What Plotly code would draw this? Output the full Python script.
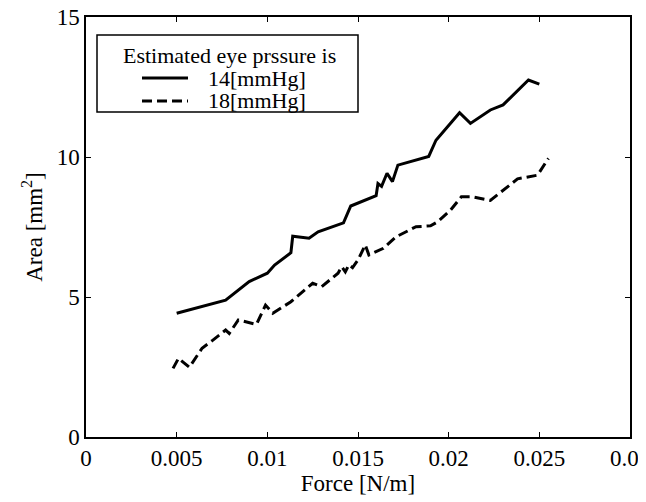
import plotly.graph_objects as go

# Data
force_14 = [0.0050, 0.0077, 0.0090, 0.0100, 0.0104, 0.0113, 0.0114, 0.0123, 0.0128, 0.0142,
            0.0146, 0.0160, 0.0161, 0.0163, 0.0166, 0.0169, 0.0172, 0.0189, 0.0193, 0.0206,
            0.0212, 0.0223, 0.0230, 0.0244, 0.0250]
area_14 = [4.42, 4.89, 5.55, 5.85, 6.14, 6.58, 7.17, 7.10, 7.33, 7.65,
           8.25, 8.62, 9.05, 8.95, 9.42, 9.12, 9.71, 10.02, 10.60, 11.58,
           11.20, 11.68, 11.86, 12.75, 12.60]

force_18 = [0.0048, 0.0051, 0.0057, 0.0064, 0.0070, 0.0077, 0.0079, 0.0084, 0.0094, 0.0099,
            0.0103, 0.0113, 0.0125, 0.0130, 0.0139, 0.0141, 0.0143, 0.0145, 0.0147, 0.0150,
            0.0154, 0.0156, 0.0164, 0.0171, 0.0182, 0.0190, 0.0194, 0.0201, 0.0207, 0.0213,
            0.0223, 0.0238, 0.0249, 0.0255]
area_18 = [2.45, 2.81, 2.49, 3.17, 3.46, 3.82, 3.70, 4.18, 4.02, 4.71,
           4.42, 4.83, 5.49, 5.37, 5.85, 6.08, 5.90, 6.15, 6.05, 6.32,
           6.86, 6.50, 6.74, 7.15, 7.51, 7.54, 7.69, 8.10, 8.58, 8.58,
           8.45, 9.22, 9.35, 9.95]

x_ticks = [0, 0.005, 0.01, 0.015, 0.02, 0.025, 0.03]
x_tick_labels = ["0", "0.005", "0.01", "0.015", "0.02", "0.025", "0.03"]
y_ticks = [0, 5, 10, 15]

legend_title = "Estimated eye prssure is"
series_names = ["14[mmHg]", "18[mmHg]"]

FONT = "Liberation Serif, Times New Roman, serif"
FS = 23
FS_LEG = 22

fig = go.Figure()
fig.add_trace(go.Scatter(x=force_14, y=area_14, mode="lines", name=series_names[0],
                         line=dict(color="black", width=3), showlegend=False))
fig.add_trace(go.Scatter(x=force_18, y=area_18, mode="lines", name=series_names[1],
                         line=dict(color="black", width=3, dash="10px,5px"), showlegend=False))

# Page has an 8px body margin; figure sized to fill the window from there
W, H = 638, 494
L, R, T, B = 78, 16, 9, 65
pw, ph = W - L - R, H - T - B
# helpers mapping reference-window pixels to paper fractions (plot area spans 86..630, 17..437)
def px(x):
    return (x - 86) / pw
def py(y):
    return (437 - y) / ph

shapes = [
    dict(type="rect", xref="paper", yref="paper", x0=px(97), x1=px(358), y0=py(112), y1=py(35),
         line=dict(color="black", width=1.5), fillcolor="white", layer="above"),
    dict(type="line", xref="paper", yref="paper", x0=px(142), x1=px(188), y0=py(78), y1=py(78),
         line=dict(color="black", width=3), layer="above"),
    dict(type="line", xref="paper", yref="paper", x0=px(142), x1=px(188), y0=py(101), y1=py(101),
         line=dict(color="black", width=3, dash="10px,5px"), layer="above"),
]
annotations = [
    dict(text=legend_title, xref="paper", yref="paper", x=px(229), y=py(55), showarrow=False,
         xanchor="center", yanchor="middle", font=dict(family=FONT, size=FS_LEG, color="black")),
    dict(text=series_names[0], xref="paper", yref="paper", x=px(206), y=py(78), showarrow=False,
         xanchor="left", yanchor="middle", font=dict(family=FONT, size=FS_LEG, color="black")),
    dict(text=series_names[1], xref="paper", yref="paper", x=px(206), y=py(101), showarrow=False,
         xanchor="left", yanchor="middle", font=dict(family=FONT, size=FS_LEG, color="black")),
]

axis_common = dict(showline=True, linecolor="black", linewidth=1.5, mirror="ticks",
                   ticks="inside", ticklen=5, tickcolor="black", showgrid=False, zeroline=False,
                   ticklabeloverflow="allow",
                   tickfont=dict(family=FONT, size=FS, color="black"))

fig.update_layout(
    width=W, height=H,
    margin=dict(l=L, r=R, t=T, b=B, autoexpand=False),
    paper_bgcolor="white", plot_bgcolor="white",
    font=dict(family=FONT, size=FS, color="black"),
    xaxis=dict(range=[0, 0.0300001], tickvals=x_ticks, ticktext=x_tick_labels,
               title=dict(text="Force [N/m]", font=dict(family=FONT, size=FS), standoff=2),
               **axis_common),
    yaxis=dict(range=[0, 15.00001], tickvals=y_ticks,
               title=dict(text="Area [mm<sup>2</sup>]", font=dict(family=FONT, size=FS), standoff=8),
               **axis_common),
    shapes=shapes, annotations=annotations,
)

fig.write_html("out.html")
